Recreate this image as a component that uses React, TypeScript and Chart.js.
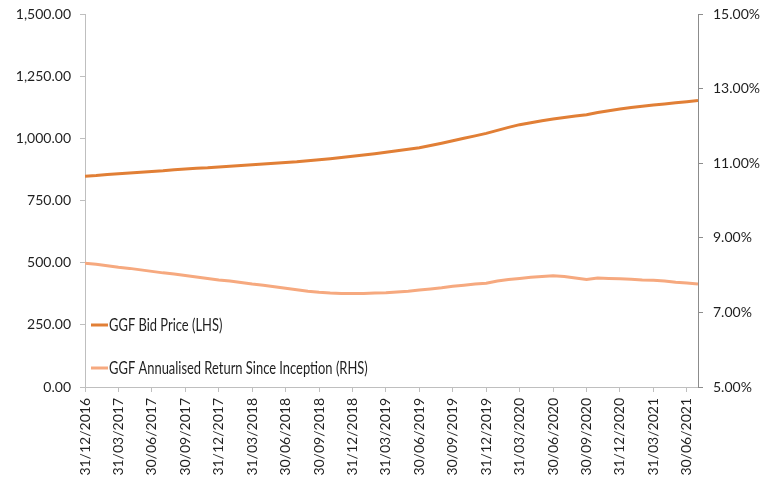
import React, { useEffect, useRef } from "react";
import { Chart, registerables } from "chart.js";

Chart.register(...registerables);

// Quarter-end tick labels (every 3 months starting 31/12/2016)
const tickLabels = [
  "31/12/2016", "31/03/2017", "30/06/2017", "30/09/2017", "31/12/2017",
  "31/03/2018", "30/06/2018", "30/09/2018", "31/12/2018", "31/03/2019",
  "30/06/2019", "30/09/2019", "31/12/2019", "31/03/2020", "30/06/2020",
  "30/09/2020", "31/12/2020", "31/03/2021", "30/06/2021",
];

const leftTickLabels = ["0.00", "250.00", "500.00", "750.00", "1,000.00", "1,250.00", "1,500.00"];
const rightTickLabels = ["5.00%", "7.00%", "9.00%", "11.00%", "13.00%", "15.00%"];

// Monthly values, Dec 2016 .. Jul 2021 (56 months)
const bidPrice = [
  848,
  851, 855, 858, 861, 864, 867, 870, 874, 877, 880, 882, 885,
  888, 891, 894, 897, 900, 903, 906, 910, 914, 918, 923, 928,
  933, 938, 944, 950, 956, 962, 971, 980, 990, 1000, 1010, 1020,
  1032, 1044, 1055, 1063, 1071, 1078, 1084, 1090, 1095, 1104, 1111, 1118,
  1124, 1129, 1134, 1138, 1143, 1147, 1152,
];

const annualisedReturn = [
  8.32,
  8.29, 8.25, 8.21, 8.18, 8.14, 8.10, 8.06, 8.03, 7.99, 7.95, 7.91, 7.87,
  7.84, 7.80, 7.76, 7.73, 7.69, 7.65, 7.61, 7.57, 7.54, 7.52, 7.51, 7.51,
  7.51, 7.52, 7.53, 7.55, 7.57, 7.60, 7.63, 7.66, 7.70, 7.73, 7.76, 7.78,
  7.84, 7.88, 7.91, 7.94, 7.96, 7.98, 7.96, 7.92, 7.88, 7.92, 7.91, 7.90,
  7.89, 7.87, 7.86, 7.84, 7.81, 7.79, 7.76,
];

const monthIndex = bidPrice.map((_, i) => i);

const BID_COLOR = "#E17F36";
const RET_COLOR = "#F6A97F";
const TICK_FONT = { family: "Lato, 'Open Sans', sans-serif", size: 14 };
const TEXT_COLOR = "#1F1F1F";

const insideLegend = {
  id: "insideLegend",
  afterDraw(chart: any) {
    const { ctx, chartArea } = chart;
    ctx.save();
    ctx.font = "17px Lato, 'Open Sans', sans-serif";
    ctx.textBaseline = "middle";
    chart.data.datasets.forEach((ds: any, i: number) => {
      const y = chartArea.bottom - 62 + i * 43;
      ctx.strokeStyle = ds.borderColor;
      ctx.lineWidth = 3;
      ctx.beginPath();
      ctx.moveTo(chartArea.left + 6, y);
      ctx.lineTo(chartArea.left + 23, y);
      ctx.stroke();
      ctx.save();
      ctx.translate(chartArea.left + 24, y + 1);
      ctx.scale(0.76, 1);
      ctx.fillStyle = TEXT_COLOR;
      ctx.fillText(ds.label, 0, 0);
      ctx.restore();
    });
    ctx.restore();
  },
};

export default function App() {
  const ref = useRef<HTMLCanvasElement>(null);

  useEffect(() => {
    document.body.style.margin = "0";
    const canvas = ref.current!;
    const chart = new Chart(canvas, {
      type: "line",
      data: {
        datasets: [
          {
            label: "GGF Bid Price (LHS)",
            data: monthIndex.map((m, i) => ({ x: m, y: bidPrice[i] })),
            borderColor: BID_COLOR,
            backgroundColor: BID_COLOR,
            borderWidth: 3,
            pointRadius: 0,
            yAxisID: "y",
          },
          {
            label: "GGF Annualised Return Since Inception (RHS)",
            data: monthIndex.map((m, i) => ({ x: m, y: annualisedReturn[i] })),
            borderColor: RET_COLOR,
            backgroundColor: RET_COLOR,
            borderWidth: 3,
            pointRadius: 0,
            yAxisID: "y1",
          },
        ],
      },
      options: {
        animation: false,
        responsive: false,
        devicePixelRatio: 1,
        layout: { padding: { top: 14, left: 0, right: 0, bottom: 0 } },
        plugins: {
          legend: { display: false },
          tooltip: { enabled: false },
        },
        scales: {
          x: {
            type: "linear",
            min: 0,
            max: monthIndex.length - 1,
            afterFit: (s: any) => {
              s.height = 90;
            },
            ticks: {
              stepSize: 3,
              includeBounds: false,
              autoSkip: false,
              minRotation: 90,
              maxRotation: 90,
              padding: 6,
              font: TICK_FONT,
              color: TEXT_COLOR,
              callback: (v: any) => tickLabels[Math.round(Number(v) / 3)] ?? "",
            },
            grid: {
              drawOnChartArea: false,
              drawTicks: true,
              tickLength: 5,
              color: "#BFBFBF",
            },
            border: { color: "#BFBFBF", width: 1 },
          },
          y: {
            position: "left",
            min: 0,
            max: 1500,
            afterFit: (s: any) => {
              s.width = 85;
              s.paddingTop = 0;
              s.paddingBottom = 0;
            },
            ticks: {
              stepSize: 250,
              padding: 9,
              font: TICK_FONT,
              color: TEXT_COLOR,
              callback: (_v: any, i: number) => leftTickLabels[i],
            },
            grid: {
              drawOnChartArea: false,
              drawTicks: true,
              tickLength: 5,
              color: "#BFBFBF",
            },
            border: { color: "#BFBFBF", width: 1 },
          },
          y1: {
            position: "right",
            min: 5,
            max: 15,
            afterFit: (s: any) => {
              s.width = 69;
              s.paddingTop = 0;
              s.paddingBottom = 0;
            },
            ticks: {
              stepSize: 2,
              padding: 10,
              font: TICK_FONT,
              color: TEXT_COLOR,
              callback: (_v: any, i: number) => rightTickLabels[i],
            },
            grid: {
              drawOnChartArea: false,
              drawTicks: true,
              tickLength: 5,
              color: "#8C8C8C",
            },
            border: { color: "#8C8C8C", width: 1 },
          },
        },
      },
      plugins: [insideLegend],
    });
    return () => chart.destroy();
  }, []);

  return <canvas ref={ref} width={767} height={477} style={{ display: "block" }} />;
}
